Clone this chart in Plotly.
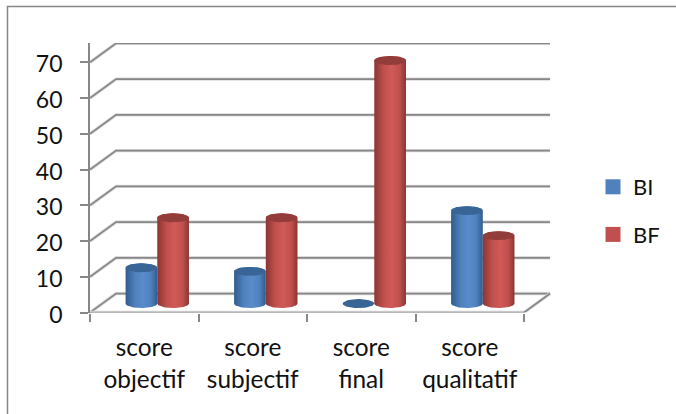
import numpy as np
import plotly.graph_objects as go

# Scores per category and per series
categories = ["score<br>objectif", "score<br>subjectif", "score<br>final", "score<br>qualitatif"]
series_bi = [10, 9, 0, 26]
series_bf = [24, 24, 68, 19]
y_ticks = [0, 10, 20, 30, 40, 50, 60, 70]

FONT = "Lato"
GRID = "#878787"
HALO = "#dcdcdc"
WIDTH, HEIGHT = 676, 414

# Oblique projection of the chart box, in axis units
DEPTH_X = 0.24
DEPTH_Y = 5.3
N = len(categories)
X_MAX = 4.267
Y_MAX = 75.4

# Cylinder shape, in axis units
GROUP_CENTER = 0.62
RADIUS_X = 0.146
RADIUS_Y = 1.26
BASE_Y = 2.5

BLUE = {"edge": "#2f5c8f", "mid": "#4f81bd", "light": "#5a8ccb", "top": "#386596"}
RED = {"edge": "#8a3533", "mid": "#c0504d", "light": "#d05a58", "top": "#933d3b"}

fig = go.Figure()


def add_line(xs, ys):
    for color, width in ((HALO, 3.4), (GRID, 1.7)):
        fig.add_trace(go.Scatter(x=xs, y=ys, mode="lines", cliponaxis=False, showlegend=False,
                                 hoverinfo="skip", line=dict(color=color, width=width)))


# Floor edges and the wall gridlines running back from the value axis
for v in y_ticks:
    add_line([0, DEPTH_X, N + DEPTH_X], [v, v + DEPTH_Y, v + DEPTH_Y])
add_line([0, N, N + DEPTH_X], [0, 0, DEPTH_Y])


def add_cylinder(cx, value, palette):
    t = np.linspace(0, np.pi, 40)
    x0, x1 = cx - RADIUS_X, cx + RADIUS_X
    top = BASE_Y + value
    if value > 0:
        xs = np.concatenate([cx + RADIUS_X * np.cos(t), cx + RADIUS_X * np.cos(t[::-1])])
        ys = np.concatenate([BASE_Y - RADIUS_Y * np.sin(t), top + RADIUS_Y * np.sin(t[::-1])])
        fig.add_trace(go.Scatter(
            x=xs, y=ys, mode="lines", fill="toself", line=dict(width=0), showlegend=False,
            hoverinfo="skip", cliponaxis=False,
            fillgradient=dict(type="horizontal", start=x0, stop=x1, colorscale=[
                [0, palette["edge"]], [0.3, palette["mid"]], [0.55, palette["light"]],
                [0.8, palette["mid"]], [1, palette["edge"]]]),
        ))
    a = np.linspace(0, 2 * np.pi, 60)
    fig.add_trace(go.Scatter(
        x=cx + RADIUS_X * np.cos(a), y=top + RADIUS_Y * np.sin(a), mode="lines", fill="toself",
        fillcolor=palette["top"], line=dict(width=0), showlegend=False, hoverinfo="skip",
        cliponaxis=False,
    ))


for i in range(N):
    add_cylinder(i + GROUP_CENTER - RADIUS_X, series_bi[i], BLUE)
    add_cylinder(i + GROUP_CENTER + RADIUS_X, series_bf[i], RED)

# Legend entries
for name, color in (("BI", "#4f81bd"), ("BF", "#c0504d")):
    fig.add_trace(go.Scatter(x=[None], y=[None], mode="markers", name=name, legendgroup=name,
                             marker=dict(symbol="square", size=15, color=color)))

fig.update_layout(
    width=WIDTH, height=HEIGHT,
    margin=dict(l=0, r=0, t=0, b=0, pad=0),
    paper_bgcolor="white", plot_bgcolor="rgba(0,0,0,0)",
    font=dict(family=FONT, size=22, color="#111111"),
    showlegend=True,
    legend=dict(x=593 / WIDTH, y=1 - 166 / HEIGHT, xanchor="left", yanchor="top", tracegroupgap=16,
                font=dict(family=FONT, size=22), bgcolor="rgba(0,0,0,0)", itemwidth=30),
    xaxis=dict(
        domain=[90 / WIDTH, 553 / WIDTH], automargin=False,
        range=[0, X_MAX], showgrid=False, zeroline=False, showline=False,
        tickmode="array", tickvals=[i + 0.5 for i in range(N)], ticktext=categories,
        tickfont=dict(family=FONT, size=24.4),
        ticks="", ticklabelstandoff=18,
        minor=dict(tickmode="array", tickvals=list(range(N + 1)), ticks="outside", ticklen=8,
                   tickwidth=1.7, tickcolor=GRID, showgrid=False),
    ),
    yaxis=dict(
        domain=[1 - 312.5 / HEIGHT, 1 - 43 / HEIGHT], automargin=False,
        range=[0, Y_MAX], showgrid=False, zeroline=False, showline=True, linecolor=GRID,
        linewidth=1.7, tickmode="array", tickvals=y_ticks, ticks="outside", ticklen=8,
        tickwidth=1.7, tickcolor=GRID, ticklabelstandoff=13, ticklabelshift=2,
        tickfont=dict(family=FONT, size=23),
    ),
    # Outer frame: only its left and top edges fall inside the page
    shapes=[dict(type="path", xref="paper", yref="paper",
                 path=f"M {7.5 / WIDTH} 0 L {7.5 / WIDTH} {1 - 6.5 / HEIGHT} L 1 {1 - 6.5 / HEIGHT}",
                 line=dict(color="#868686", width=1.5))],
)

fig.write_html("out.html")
